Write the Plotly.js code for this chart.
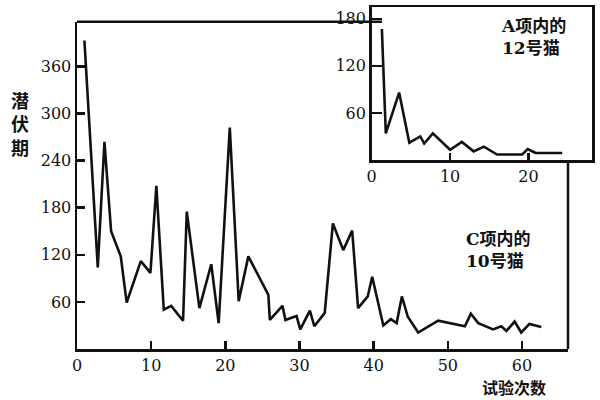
<!DOCTYPE html>
<html>
<head>
<meta charset="utf-8">
<script src="https://cdn.plot.ly/plotly-3.0.1.min.js"></script>
<style>html,body{margin:0;padding:0;background:#fff;}#chart{width:600px;height:400px;}</style>
</head>
<body>
<div id="chart"></div>
<script>
// Main chart: C项内的10号猫 (trial number vs latency)
const trialsC = [1, 2.8, 3.7, 4.6, 5.9, 6.7, 8.6, 9.9, 10.7, 11.7, 12.7, 14.3, 14.8, 16.5, 18.1, 19.1, 20.6, 21.8, 23.1, 25.8, 26.0, 27.7, 28.1, 29.6, 30.1, 31.4, 32.0, 33.4, 34.5, 35.9, 37.1, 37.9, 39.2, 39.8, 41.3, 42.3, 43.1, 43.8, 44.6, 46.0, 48.7, 52.3, 53.1, 54.1, 56.1, 57.2, 57.9, 59.0, 59.9, 61.0, 62.6];
const latencyC = [393, 104, 264, 150, 118, 59, 112, 97, 208, 50, 55, 36, 175, 52, 108, 33, 282, 61, 118, 69, 37, 55, 37, 42, 25, 49, 29, 46, 160, 126, 151, 52, 67, 92, 30, 38, 33, 67, 41, 21, 36, 29, 45, 33, 25, 29, 23, 35, 21, 32, 28];

// Inset chart: A项内的12号猫
const trialsA = [1.3, 1.8, 3.5, 4.8, 6.2, 6.7, 7.8, 10.0, 11.5, 13.0, 14.3, 16.0, 19.2, 19.9, 20.9, 24.3];
const latencyA = [167, 34, 86, 22, 30, 21, 34, 13, 23, 11, 17, 7, 7, 14, 9, 9];

// Tick labels
const mainXTicks = [0, 10, 20, 30, 40, 50, 60];
const mainYTicks = [60, 120, 180, 240, 300, 360];
const insetXTicks = [0, 10, 20];
const insetYTicks = [60, 120, 180];

// Texts
const yTitle = "潜<br>伏<br>期";
const xTitle = "试验次数";
const labelC = "C项内的<br>10号猫";
const labelA = "A项内的<br>12号猫";

const ink = "#111111";
const serif = "DejaVu Serif, Noto Sans CJK SC, serif";
const tickFont = {family: serif, size: 16, color: ink};
const cjkFont = {family: serif, size: 18, color: ink, weight: "bold"};
const labelFont = {family: serif, size: 17, color: ink, weight: "bold"};

const traces = [
  {x: trialsC, y: latencyC, type: "scatter", mode: "lines", xaxis: "x", yaxis: "y",
   line: {color: ink, width: 2.6}, hoverinfo: "skip"},
  {x: trialsA, y: latencyA, type: "scatter", mode: "lines", xaxis: "x2", yaxis: "y2",
   line: {color: ink, width: 2.6}, hoverinfo: "skip"}
];

const layout = {
  width: 600, height: 400,
  margin: {l: 77, r: 8, t: 7, b: 51},
  paper_bgcolor: "#ffffff", plot_bgcolor: "rgba(0,0,0,0)",
  showlegend: false,
  xaxis: {domain: [0, 0.9534], range: [0, 66.2], anchor: "y",
    showgrid: false, zeroline: false, showline: true, linecolor: ink, linewidth: 2.5,
    ticks: "inside", ticklen: 8, tickwidth: 2.5, tickcolor: ink,
    tickmode: "array", tickvals: mainXTicks, ticktext: mainXTicks.map(String), tickfont: tickFont},
  yaxis: {domain: [0, 0.957], range: [0, 417], anchor: "x",
    showgrid: false, zeroline: false, showline: true, linecolor: ink, linewidth: 2.5,
    ticks: "inside", ticklen: 8, tickwidth: 2.5, tickcolor: ink,
    tickmode: "array", tickvals: mainYTicks, ticktext: mainYTicks.map(String), tickfont: tickFont},
  xaxis2: {domain: [0.5722, 1], range: [0, 28.1], anchor: "y2",
    showgrid: false, zeroline: false, showline: true, mirror: true, linecolor: ink, linewidth: 2.5,
    ticks: "inside", ticklen: 7, tickwidth: 2.5, tickcolor: ink,
    tickmode: "array", tickvals: insetXTicks, ticktext: insetXTicks.map(String), tickfont: tickFont},
  yaxis2: {domain: [0.5526, 1], range: [0, 195], anchor: "x2",
    showgrid: false, zeroline: false, showline: true, mirror: true, linecolor: ink, linewidth: 2.5,
    ticks: "inside", ticklen: 10, tickwidth: 2.5, tickcolor: ink,
    tickmode: "array", tickvals: insetYTicks, ticktext: insetYTicks.map(String), tickfont: tickFont},
  shapes: [
    {type: "line", xref: "paper", yref: "paper", x0: 0, x1: 0.592, y0: 0.957, y1: 0.957,
     line: {color: ink, width: 2.5}},
    {type: "line", xref: "paper", yref: "paper", x0: 0.9534, x1: 0.9534, y0: 0, y1: 0.5526,
     line: {color: ink, width: 2.5}}
  ],
  annotations: [
    {text: yTitle, xref: "paper", yref: "paper", x: -0.111, y: 0.655, xanchor: "center", yanchor: "middle",
     showarrow: false, font: cjkFont, align: "center"},
    {text: xTitle, xref: "paper", yref: "paper", x: 0.8485, y: -0.115, xanchor: "center", yanchor: "middle",
     showarrow: false, font: {family: serif, size: 16, color: ink, weight: "bold"}},
    {text: labelC, xref: "paper", yref: "paper", x: 0.751, y: 0.2887, xanchor: "left", yanchor: "middle",
     showarrow: false, font: labelFont, align: "left"},
    {text: labelA, xref: "paper", yref: "paper", x: 0.819, y: 0.9137, xanchor: "left", yanchor: "middle",
     showarrow: false, font: labelFont, align: "left"}
  ]
};

Plotly.newPlot("chart", traces, layout, {staticPlot: true, displayModeBar: false});
</script>
</body>
</html>
